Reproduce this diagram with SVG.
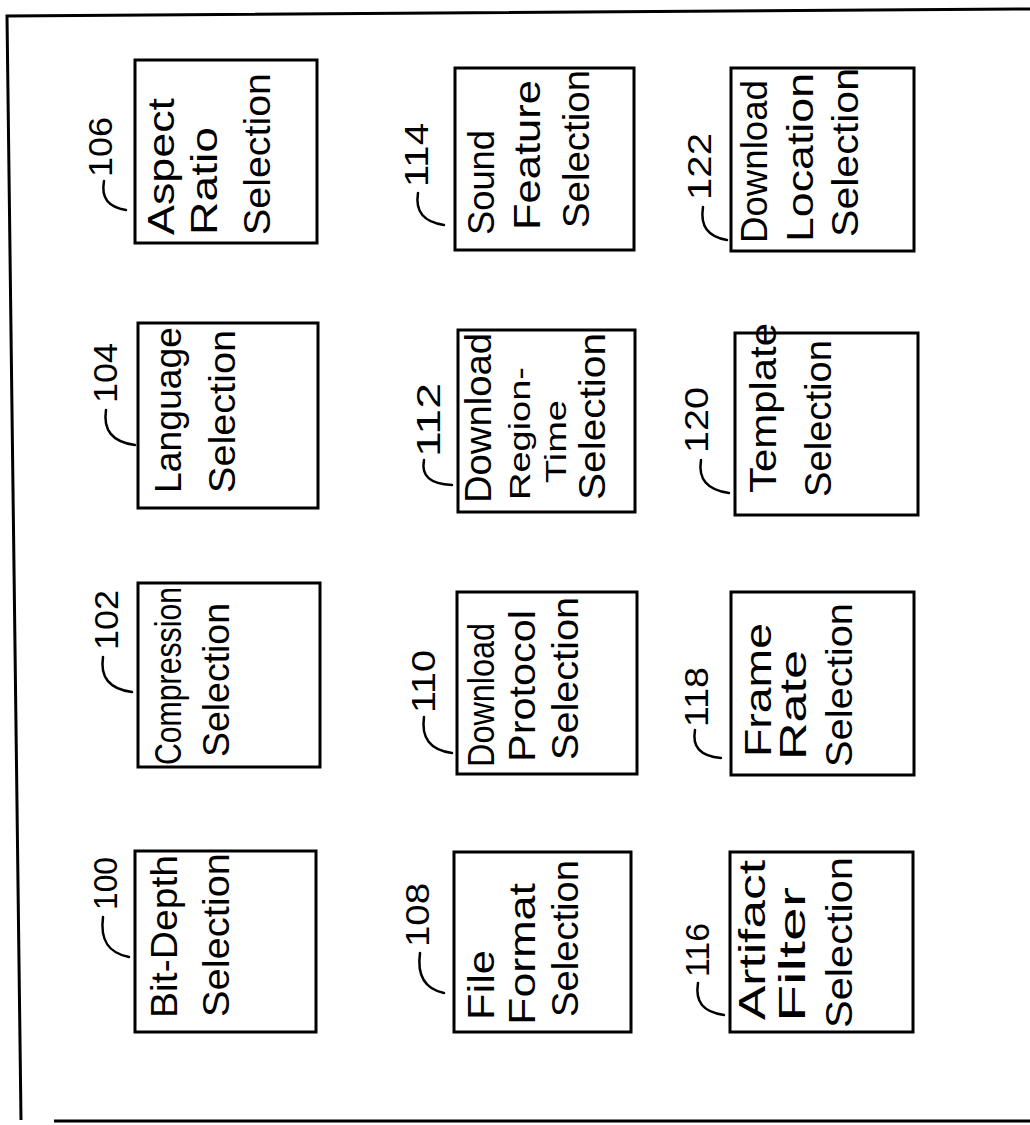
<svg xmlns="http://www.w3.org/2000/svg" width="1030" height="1125" viewBox="0 0 1030 1125">
<style>
.box{fill:none;stroke:#000;stroke-width:3}
.t{font-family:"Liberation Sans","DejaVu Sans",sans-serif;font-size:36px;fill:#000}
.s{font-family:"Liberation Sans","DejaVu Sans",sans-serif;font-size:29px;fill:#000}
.n{font-family:"Liberation Sans","DejaVu Sans",sans-serif;font-size:34px;fill:#000}
.hook{fill:none;stroke:#000;stroke-width:2.5;stroke-linecap:round}
.frame{fill:none;stroke:#000;stroke-width:3}
</style>
<rect width="1030" height="1125" fill="#fff"/>
<g id="frame">
<path class="frame" d="M1030,9 L7,16 L21,1120"/>
<path class="frame" d="M54,1121 L1030,1121"/>
</g>
<g id="connectors"></g>

<g id="n106">
<rect class="box" x="135" y="60" width="182" height="183"/>
<text class="t" transform="translate(174,235) rotate(-90)" textLength="137" lengthAdjust="spacingAndGlyphs">Aspect</text>
<text class="t" transform="translate(217,235) rotate(-90)" textLength="108" lengthAdjust="spacingAndGlyphs">Ratio</text>
<text class="t" transform="translate(270,235) rotate(-90)" textLength="162" lengthAdjust="spacingAndGlyphs">Selection</text>
<text class="n" transform="translate(112,177) rotate(-90)" textLength="60" lengthAdjust="spacingAndGlyphs">106</text>
<path class="hook" d="M104,181 C101,198 108,207 126,210"/>
</g>

<g id="n114">
<rect class="box" x="455" y="68" width="179" height="182"/>
<text class="t" transform="translate(494,235) rotate(-90)" textLength="105" lengthAdjust="spacingAndGlyphs">Sound</text>
<text class="t" transform="translate(540,230) rotate(-90)" textLength="150" lengthAdjust="spacingAndGlyphs">Feature</text>
<text class="t" transform="translate(589,228) rotate(-90)" textLength="158" lengthAdjust="spacingAndGlyphs">Selection</text>
<text class="n" transform="translate(428,187) rotate(-90)" textLength="64" lengthAdjust="spacingAndGlyphs">114</text>
<path class="hook" d="M418,193 C415,212 424,222 444,225"/>
</g>

<g id="n122">
<rect class="box" x="731" y="68" width="183" height="183"/>
<text class="t" transform="translate(767,243) rotate(-90)" textLength="163" lengthAdjust="spacingAndGlyphs">Download</text>
<text class="t" transform="translate(813,242) rotate(-90)" textLength="169" lengthAdjust="spacingAndGlyphs">Location</text>
<text class="t" transform="translate(858,237) rotate(-90)" textLength="169" lengthAdjust="spacingAndGlyphs">Selection</text>
<text class="n" transform="translate(711,200) rotate(-90)" textLength="67" lengthAdjust="spacingAndGlyphs">122</text>
<path class="hook" d="M703,207 C700,226 708,237 727,240"/>
</g>

<g id="n104">
<rect class="box" x="138" y="323" width="180" height="185"/>
<text class="t" transform="translate(181,493) rotate(-90)" textLength="166" lengthAdjust="spacingAndGlyphs">Language</text>
<text class="t" transform="translate(235,493) rotate(-90)" textLength="163" lengthAdjust="spacingAndGlyphs">Selection</text>
<text class="n" transform="translate(117,403) rotate(-90)" textLength="60" lengthAdjust="spacingAndGlyphs">104</text>
<path class="hook" d="M106,410 C103,430 112,442 135,445"/>
</g>

<g id="n112">
<rect class="box" x="458" y="330" width="177" height="182"/>
<text class="t" transform="translate(491,503) rotate(-90)" textLength="170" lengthAdjust="spacingAndGlyphs">Download</text>
<text class="s" transform="translate(530,500) rotate(-90)" textLength="133" lengthAdjust="spacingAndGlyphs">Region-</text>
<text class="s" transform="translate(566,483) rotate(-90)" textLength="83" lengthAdjust="spacingAndGlyphs">Time</text>
<text class="t" transform="translate(605,500) rotate(-90)" textLength="167" lengthAdjust="spacingAndGlyphs">Selection</text>
<text class="n" transform="translate(440,457) rotate(-90)" textLength="74" lengthAdjust="spacingAndGlyphs">112</text>
<path class="hook" d="M424,460 C421,476 430,484 452,485"/>
</g>

<g id="n120">
<rect class="box" x="735" y="333" width="183" height="182"/>
<text class="t" transform="translate(776,493) rotate(-90)" textLength="170" lengthAdjust="spacingAndGlyphs">Template</text>
<text class="t" transform="translate(831,497) rotate(-90)" textLength="157" lengthAdjust="spacingAndGlyphs">Selection</text>
<text class="n" transform="translate(708,453) rotate(-90)" textLength="66" lengthAdjust="spacingAndGlyphs">120</text>
<path class="hook" d="M701,460 C698,479 707,490 729,493"/>
</g>

<g id="n102">
<rect class="box" x="138" y="583" width="182" height="184"/>
<text class="t" transform="translate(181,765) rotate(-90)" textLength="178" lengthAdjust="spacingAndGlyphs">Compression</text>
<text class="t" transform="translate(229,757) rotate(-90)" textLength="154" lengthAdjust="spacingAndGlyphs">Selection</text>
<text class="n" transform="translate(118,650) rotate(-90)" textLength="60" lengthAdjust="spacingAndGlyphs">102</text>
<path class="hook" d="M103,657 C100,677 109,689 132,692"/>
</g>

<g id="n110">
<rect class="box" x="457" y="592" width="180" height="182"/>
<text class="t" transform="translate(494,767) rotate(-90)" textLength="144" lengthAdjust="spacingAndGlyphs">Download</text>
<text class="t" transform="translate(535,762) rotate(-90)" textLength="152" lengthAdjust="spacingAndGlyphs">Protocol</text>
<text class="t" transform="translate(578,760) rotate(-90)" textLength="163" lengthAdjust="spacingAndGlyphs">Selection</text>
<text class="n" transform="translate(435,713) rotate(-90)" textLength="63" lengthAdjust="spacingAndGlyphs">110</text>
<path class="hook" d="M424,717 C421,738 430,750 452,753"/>
</g>

<g id="n118">
<rect class="box" x="731" y="592" width="183" height="183"/>
<text class="t" transform="translate(771,757) rotate(-90)" textLength="134" lengthAdjust="spacingAndGlyphs">Frame</text>
<text class="t" transform="translate(806,760) rotate(-90)" textLength="110" lengthAdjust="spacingAndGlyphs">Rate</text>
<text class="t" transform="translate(852,767) rotate(-90)" textLength="164" lengthAdjust="spacingAndGlyphs">Selection</text>
<text class="n" transform="translate(708,727) rotate(-90)" textLength="60" lengthAdjust="spacingAndGlyphs">118</text>
<path class="hook" d="M695,730 C692,747 700,756 721,758"/>
</g>

<g id="n100">
<rect class="box" x="135" y="851" width="181" height="181"/>
<text class="t" transform="translate(177,1018) rotate(-90)" textLength="163" lengthAdjust="spacingAndGlyphs">Bit-Depth</text>
<text class="t" transform="translate(229,1017) rotate(-90)" textLength="164" lengthAdjust="spacingAndGlyphs">Selection</text>
<text class="n" transform="translate(117,910) rotate(-90)" textLength="53" lengthAdjust="spacingAndGlyphs">100</text>
<path class="hook" d="M103,917 C100,940 108,953 129,957"/>
</g>

<g id="n108">
<rect class="box" x="454" y="852" width="177" height="180"/>
<text class="t" transform="translate(494,1020) rotate(-90)" textLength="70" lengthAdjust="spacingAndGlyphs">File</text>
<text class="t" transform="translate(535,1025) rotate(-90)" textLength="142" lengthAdjust="spacingAndGlyphs">Format</text>
<text class="t" transform="translate(578,1017) rotate(-90)" textLength="157" lengthAdjust="spacingAndGlyphs">Selection</text>
<text class="n" transform="translate(429,947) rotate(-90)" textLength="64" lengthAdjust="spacingAndGlyphs">108</text>
<path class="hook" d="M420,953 C417,975 425,989 444,993"/>
</g>

<g id="n116">
<rect class="box" x="730" y="852" width="183" height="180"/>
<text class="t" transform="translate(765,1020) rotate(-90)" textLength="160" lengthAdjust="spacingAndGlyphs">Artifact</text>
<text class="t" transform="translate(805,1022) rotate(-90)" textLength="135" lengthAdjust="spacingAndGlyphs">Filter</text>
<text class="t" transform="translate(852,1028) rotate(-90)" textLength="171" lengthAdjust="spacingAndGlyphs">Selection</text>
<text class="n" transform="translate(709,977) rotate(-90)" textLength="54" lengthAdjust="spacingAndGlyphs">116</text>
<path class="hook" d="M698,983 C695,1002 703,1012 724,1015"/>
</g>
</svg>
